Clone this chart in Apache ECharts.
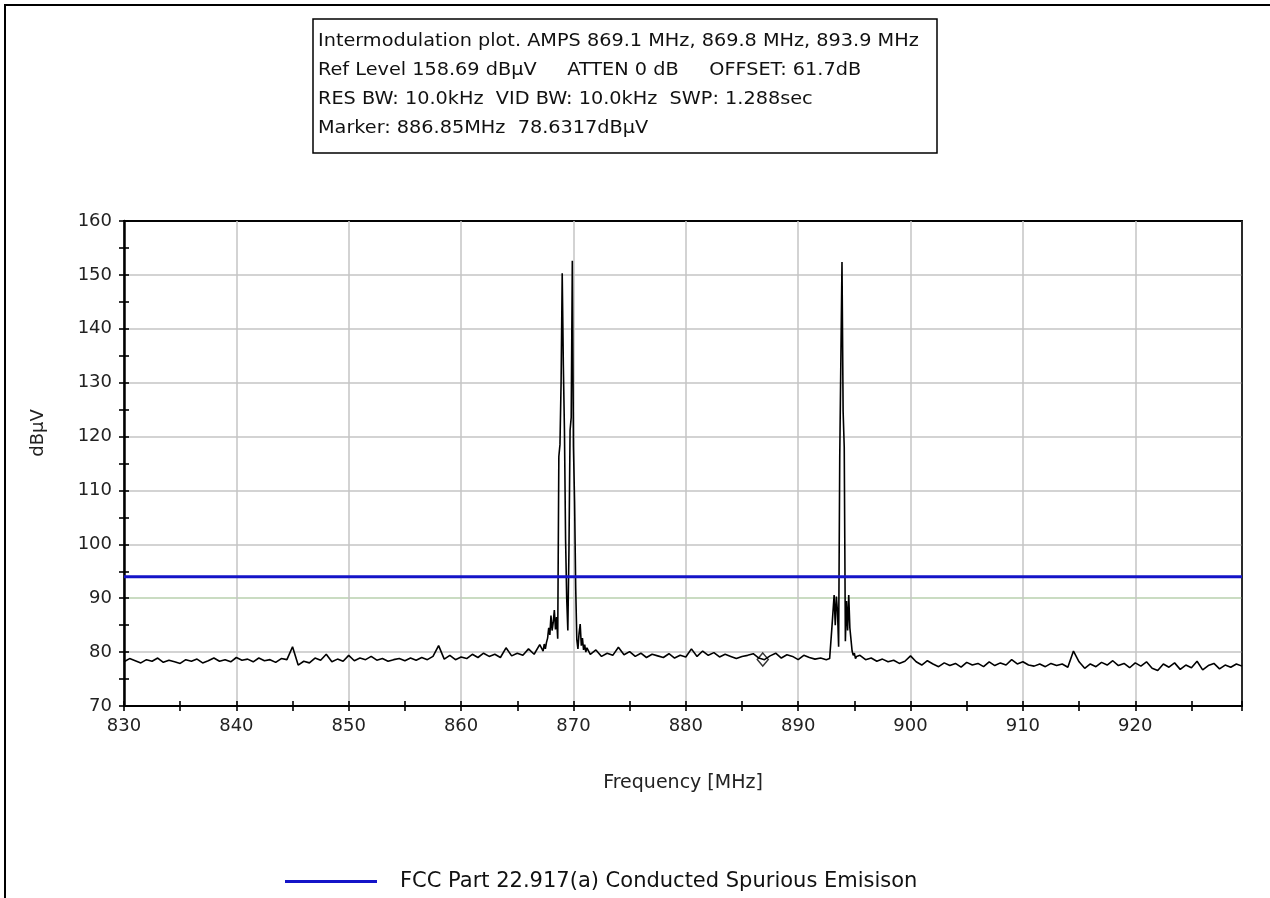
<!DOCTYPE html>
<html>
<head>
<meta charset="utf-8">
<script src="https://cdn.jsdelivr.net/npm/echarts@6/dist/echarts.min.js"></script>
<style>
html,body{margin:0;padding:0;background:#fff;}
#chart{width:1270px;height:898px;}
</style>
</head>
<body>
<div id="chart"></div>
<script>
// ---------- data ----------
const headerLines = [
  'Intermodulation plot. AMPS 869.1 MHz, 869.8 MHz, 893.9 MHz',
  'Ref Level 158.69 dB\u00b5V     ATTEN 0 dB     OFFSET: 61.7dB',
  'RES BW: 10.0kHz  VID BW: 10.0kHz  SWP: 1.288sec',
  'Marker: 886.85MHz  78.6317dB\u00b5V'
];
const xTitle = 'Frequency [MHz]';
const yTitle = 'dB\u00b5V';
const limitName = 'FCC Part 22.917(a) Conducted Spurious Emisison';
const limitLevel = 94;           // dBµV
const markerFreq = 886.85;       // MHz
const markerLevel = 78.6317;     // dBµV
const xMin = 830, xMax = 929.5, yMin = 70, yMax = 160;

// noise floor 830.0 .. 867.0, every 0.5 MHz
const floorA_start = 830.0, floorA_step = 0.5;
const floorA = [78.2,78.8,78.4,78.0,78.6,78.3,78.9,78.1,78.5,78.2,
  77.9,78.6,78.3,78.7,78.0,78.4,78.9,78.3,78.6,78.2,
  79.0,78.5,78.7,78.2,78.9,78.4,78.6,78.1,78.8,78.6,
  81.0,77.6,78.3,78.0,78.9,78.5,79.6,78.2,78.7,78.3,
  79.4,78.4,78.9,78.6,79.2,78.5,78.8,78.3,78.6,78.8,
  78.4,78.9,78.5,79.0,78.6,79.2,81.2,78.7,79.4,78.6,
  79.1,78.8,79.6,79.0,79.8,79.2,79.6,79.0,80.8,79.3,
  79.8,79.4,80.6,79.6,81.4];
// carriers 869.1 / 869.8 MHz, every 0.1 MHz from 867.3
const carrierA_start = 867.3, carrierA_step = 0.1;
const carrierA = [80.2,81.5,80.6,81.8,82.6,84.5,83.2,86.8,84.0,85.5,
  87.8,84.2,86.5,82.5,116.3,118.5,130.0,150.3,133.3,121.0,
  100.8,90.0,84.0,99.0,121.2,123.5,152.6,118.1,108.0,92.0,
  82.3,80.6,83.5,85.2,81.2,82.6,80.4,81.4,80.0,80.8];
// noise floor 871.5 .. 892.5, every 0.5 MHz
const floorB_start = 871.5, floorB_step = 0.5;
const floorB = [79.6,80.4,79.2,79.8,79.4,80.9,79.5,80.1,79.2,79.8,
  79.0,79.6,79.3,79.0,79.7,78.9,79.4,79.1,80.6,79.2,
  80.2,79.4,79.9,79.1,79.6,79.2,78.8,79.2,79.4,79.7,
  78.9,78.6,79.3,79.8,78.9,79.5,79.2,78.6,79.4,79.0,
  78.7,78.9,78.6];
// carrier 893.9 MHz, every 0.1 MHz from 892.8
const carrierB_start = 892.8, carrierB_step = 0.1;
const carrierB = [78.8,79.0,84.5,84.3,90.6,85.0,90.3,87.5,81.0,116.3,
  116.0,152.4,124.7,118.0,82.0,89.5,84.0,90.6,84.5,84.3,
  80.2,79.4,79.8,78.8,79.2];
// noise floor 895.5 .. 929.5, every 0.5 MHz
const floorC_start = 895.5, floorC_step = 0.5;
const floorC = [79.4,78.6,78.9,78.3,78.7,78.2,78.5,77.9,78.3,79.3,
  78.2,77.6,78.4,77.8,77.3,78.0,77.5,77.9,77.2,78.1,
  77.6,77.9,77.3,78.2,77.5,78.0,77.6,78.6,77.8,78.2,
  77.6,77.4,77.8,77.3,77.9,77.5,77.8,77.2,80.2,78.2,
  77.0,77.8,77.3,78.1,77.6,78.4,77.5,77.9,77.1,78.0,
  77.4,78.2,77.0,76.6,77.8,77.2,78.0,76.8,77.6,77.1,
  78.3,76.7,77.5,77.9,76.9,77.6,77.2,77.8,77.4];

// ---------- build ----------
function seg(start, step, vals){ return vals.map((v,i)=>[+(start+i*step).toFixed(2), v]); }
const trace = [].concat(
  seg(floorA_start, floorA_step, floorA),
  seg(carrierA_start, carrierA_step, carrierA),
  seg(floorB_start, floorB_step, floorB),
  seg(carrierB_start, carrierB_step, carrierB),
  seg(floorC_start, floorC_step, floorC)
);

const FONT = 'DejaVu Sans';
const GRID = '#c4c4c4';
const grid = {left:124, right:28, top:221, bottom:192, show:true, borderColor:'#111', borderWidth:2, backgroundColor:'#fff'};

function tickAxis(type, inside){
  const isX = type === 'x';
  return {
    type:'value', min: isX?xMin:yMin, max: isX?xMax:yMax, interval:5,
    position: isX?'bottom':'left',
    axisLine:{show:false}, splitLine:{show:false}, axisLabel:{show:false},
    axisTick:{show:true, inside:inside, length:5, lineStyle:{color:'#000', width:1.6}}
  };
}

const chart = echarts.init(document.getElementById('chart'));
chart.setOption({
  animation:false,
  backgroundColor:'#fff',
  grid: grid,
  xAxis:[
    {type:'value', min:xMin, max:xMax, interval:10, position:'bottom',
     name:xTitle, nameLocation:'middle', nameGap:68,
     nameTextStyle:{fontFamily:FONT, fontSize:19, color:'#222'},
     axisLine:{show:true, lineStyle:{color:'#000', width:2}},
     axisTick:{show:false},
     axisLabel:{fontFamily:FONT, fontSize:18, color:'#222', margin:11, showMaxLabel:false,
       formatter:v=> (v%10===0 ? String(v) : '')},
     splitLine:{show:true, lineStyle:{width:1.5,
       color:[GRID,GRID,GRID,GRID,GRID,GRID,GRID,GRID,GRID,GRID,'#333']}}},
    tickAxis('x', true), tickAxis('x', false)
  ],
  yAxis:[
    {type:'value', min:yMin, max:yMax, interval:10, position:'left',
     axisLine:{show:true, lineStyle:{color:'#000', width:2.5}},
     axisTick:{show:false},
     axisLabel:{fontFamily:FONT, fontSize:18, color:'#222', margin:12},
     splitLine:{show:true, lineStyle:{width:1.5,
       color:[GRID,GRID,'#b9d0ae',GRID,GRID,GRID,GRID,GRID,GRID,'#000']}}},
    tickAxis('y', true), tickAxis('y', false)
  ],
  legend:{
    data:[{name:limitName, icon:'rect'}],
    left:280, top:866, itemWidth:92, itemHeight:3, itemGap:10,
    textStyle:{fontFamily:FONT, fontSize:21, color:'#111', padding:[0,0,0,18]}
  },
  series:[
    {name:'Spectrum', type:'line', data:trace, showSymbol:false, xAxisIndex:0, yAxisIndex:0,
     lineStyle:{color:'#000', width:1.6}, itemStyle:{color:'#000'}, z:3},
    {name:limitName, type:'line', data:[[xMin,limitLevel],[xMax,limitLevel]], showSymbol:false,
     lineStyle:{color:'#1414c8', width:3}, itemStyle:{color:'#1414c8'}, z:4},
    {name:'Marker', type:'scatter', data:[[markerFreq, markerLevel]], symbol:'diamond', symbolSize:[11,13],
     itemStyle:{color:'rgba(0,0,0,0)', borderColor:'#000', borderWidth:1.5}, z:5}
  ],
  graphic:[
    {type:'line', shape:{x1:4, y1:5, x2:1270, y2:5}, style:{stroke:'#000', lineWidth:2}},
    {type:'line', shape:{x1:5, y1:4, x2:5, y2:898}, style:{stroke:'#000', lineWidth:2}},
    {type:'rect', shape:{x:313, y:19, width:624, height:134}, style:{fill:'#fff', stroke:'#000', lineWidth:1.5}},
    ...headerLines.map((t,i)=>({type:'text', x:318, y:41+i*29, scaleX:1.07,
       style:{text:t, fontFamily:FONT, fontSize:18, fill:'#111', verticalAlign:'middle', align:'left'}})),
    {type:'text', x:38, y:433, rotation:Math.PI/2,
     style:{text:yTitle, fontFamily:FONT, fontSize:18, fill:'#222', align:'center', verticalAlign:'middle'}}
  ]
});
</script>
</body>
</html>
